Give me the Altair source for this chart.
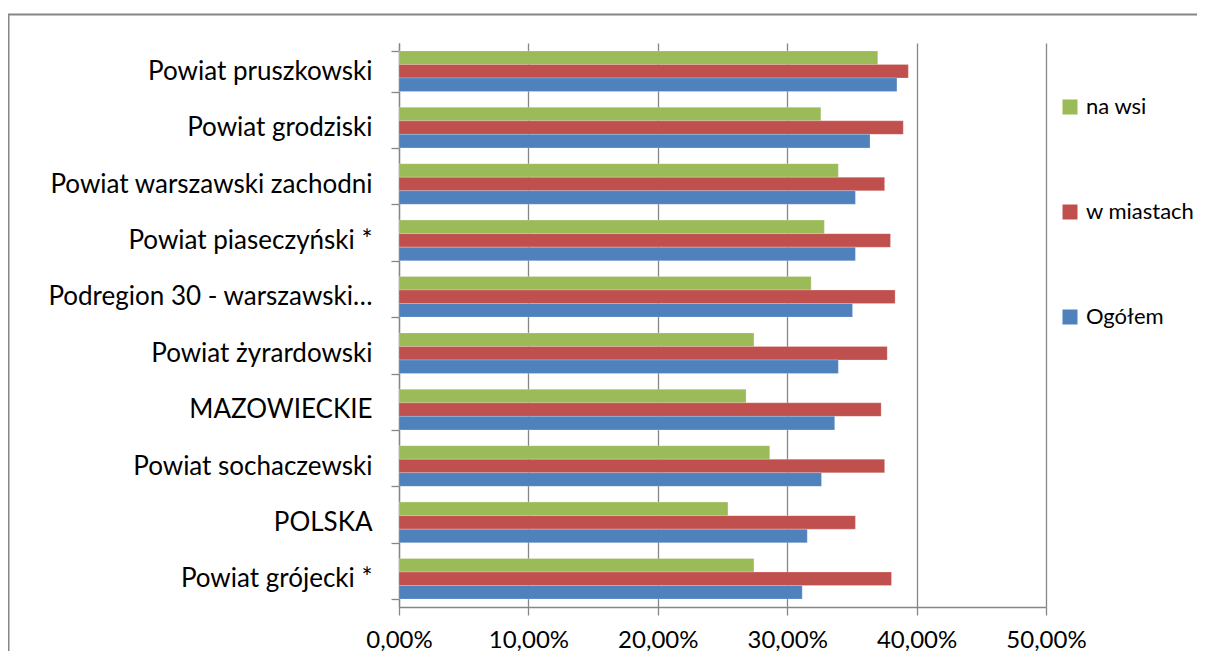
import altair as alt
import pandas as pd

categories = [
    "Powiat pruszkowski",
    "Powiat grodziski",
    "Powiat warszawski zachodni",
    "Powiat piaseczyński *",
    "Podregion 30 - warszawski…",
    "Powiat żyrardowski",
    "MAZOWIECKIE",
    "Powiat sochaczewski",
    "POLSKA",
    "Powiat grójecki *",
]
na_wsi = [0.370, 0.326, 0.3395, 0.3287, 0.3185, 0.2743, 0.2682, 0.2865, 0.2542, 0.2743]
w_miastach = [0.3936, 0.3897, 0.3753, 0.3798, 0.3834, 0.3773, 0.3726, 0.3753, 0.3527, 0.3806]
ogolem = [0.3848, 0.3640, 0.3527, 0.3527, 0.3505, 0.3395, 0.3367, 0.3265, 0.3155, 0.3116]
series = ["na wsi", "w miastach", "Ogółem"]
colors = ["#9BBB59", "#C0504D", "#4F81BD"]
x_ticks = [0, 0.1, 0.2, 0.3, 0.4, 0.5]

rows = []
for s, vals in zip(series, [na_wsi, w_miastach, ogolem]):
    for c, v in zip(categories, vals):
        rows.append({"category": c, "series": s, "value": v})
df = pd.DataFrame(rows)

FONT = "Lato"
GRAY = "#868686"

bars = alt.Chart(df).mark_bar(stroke="white", strokeOpacity=0.35, strokeWidth=0.6).encode(
    x=alt.X(
        "value:Q",
        scale=alt.Scale(domain=[0, 0.5], nice=False),
        axis=alt.Axis(
            values=x_ticks,
            format=".2%",
            labelExpr="replace(datum.label, '.', ',')",
            title=None,
            grid=True,
            gridColor=GRAY,
            gridWidth=1.3,
            domainColor=GRAY,
            domainWidth=1.3,
            tickColor=GRAY,
            tickWidth=1.3,
            tickSize=8,
            labelFont=FONT,
            labelFontSize=24,
            labelColor="black",
            labelBaseline="alphabetic",
            labelPadding=32,
            labelFlush=False,
            labelOverlap=False,
        ),
    ),
    y=alt.Y(
        "category:N",
        sort=categories,
        scale=alt.Scale(paddingInner=0.28, paddingOuter=0.14),
        axis=alt.Axis(
            title=None,
            tickBand="extent",
            tickSize=8,
            tickColor=GRAY,
            tickWidth=1.3,
            domainColor=GRAY,
            domainWidth=1.3,
            labelFont=FONT,
            labelFontSize=26,
            labelColor="black",
            labelPadding=19,
            labelLimit=0,
        ),
    ),
    yOffset=alt.YOffset("series:N", sort=series, scale=alt.Scale(paddingInner=0, paddingOuter=0)),
    color=alt.Color(
        "series:N",
        scale=alt.Scale(domain=series, range=colors),
        legend=alt.Legend(
            title=None,
            orient="none",
            legendX=660,
            legendY=53,
            symbolType="square",
            symbolSize=225,
            symbolStrokeWidth=0,
            labelFont=FONT,
            labelFontSize=22,
            labelColor="black",
            labelOffset=5,
            labelLimit=0,
            rowPadding=83,
            padding=0,
        ),
    ),
)

border = alt.Chart(pd.DataFrame({"a": [0]})).mark_rect(
    fill=None, stroke=GRAY, strokeWidth=2
).encode(
    x=alt.value(-390.5), x2=alt.value(900), y=alt.value(-28.5), y2=alt.value(700)
)

chart = alt.layer(border, bars).properties(
    width=647,
    height=564,
    autosize=alt.AutoSizeParams(type="none"),
    padding={"left": 391, "top": 35, "right": 151, "bottom": 44},
).configure_view(stroke=None)

chart.save("out.html", embed_options={"renderer": "svg", "actions": False})
